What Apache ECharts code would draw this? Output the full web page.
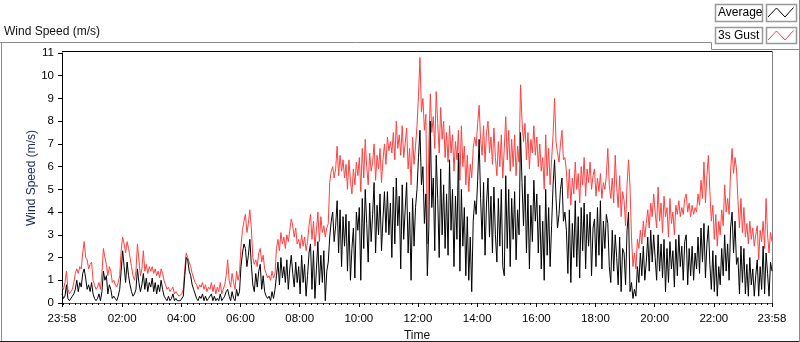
<!DOCTYPE html>
<html>
<head>
<meta charset="utf-8">
<title>Wind Speed (m/s)</title>
<script src="https://cdn.jsdelivr.net/npm/echarts@6/dist/echarts.min.js"></script>
<style>
  html, body { margin: 0; padding: 0; background: #fff; }
  #chart { width: 800px; height: 342px; }
</style>
</head>
<body>
<div id="chart"></div>
<script>
// one reading every 3 minutes, starting 23:58 the day before
// each row is one hour
const stepMinutes = 3
const avgSpeed = [
  0.4, 0.2, 0.3, 0.8, 0.2, 0.1, 0.1, 0.3, 0.4, 0.6, 1.0, 0.5, 0.9, 0.7, 1.3, 1.5, 1.1, 0.6, 0.8, 0.5,
  0.9, 0.4, 0.2, 0.1, 0.2, 0.4, 0.1, 0.5, 1.4, 1.0, 1.2, 0.4, 0.8, 0.6, 0.2, 0.3, 0.2, 0.1, 0.3, 0.6,
  1.4, 2.3, 1.6, 0.9, 1.8, 1.2, 0.8, 0.5, 0.3, 0.4, 0.6, 1.5, 0.9, 0.5, 0.8, 1.3, 0.6, 1.1, 0.5, 0.9,
  0.7, 1.1, 0.5, 0.9, 0.4, 0.8, 0.5, 1.0, 0.6, 0.3, 0.2, 0.1, 0.3, 0.1, 0.2, 0.4, 0.1, 0.2, 0.1, 0.1,
  0.1, 0.1, 0.3, 1.2, 2.0, 1.9, 1.4, 1.2, 0.8, 0.6, 0.4, 0.2, 0.1, 0.3, 0.2, 0.4, 0.1, 0.3, 0.1, 0.2,
  0.2, 0.4, 0.1, 0.3, 0.1, 0.2, 0.1, 0.4, 0.1, 0.2, 0.3, 0.5, 0.6, 0.3, 0.1, 0.5, 0.2, 0.1, 0.6, 0.3,
  0.5, 1.6, 2.2, 2.6, 2.4, 1.6, 2.1, 2.8, 1.7, 0.8, 0.5, 1.3, 0.7, 1.4, 1.7, 0.6, 1.2, 0.5, 0.3, 0.2,
  0.3, 0.1, 0.5, 0.2, 0.6, 1.2, 1.8, 0.8, 2.0, 1.1, 1.6, 0.9, 1.9, 0.6, 1.5, 2.1, 1.3, 0.7, 1.8, 0.9,
  1.6, 0.4, 2.1, 0.9, 1.7, 0.3, 1.2, 2.2, 2.6, 0.6, 2.3, 0.2, 1.5, 2.7, 0.8, 2.1, 0.9, 2.3, 0.1, 1.4,
  1.8, 2.9, 3.6, 4.0, 2.7, 3.4, 4.5, 2.2, 4.1, 1.6, 3.8, 2.5, 3.9, 1.4, 3.6, 1.0, 2.4, 3.3, 1.1, 4.0,
  3.2, 4.2, 1.0, 4.6, 2.4, 5.0, 3.5, 1.8, 4.4, 2.7, 3.9, 5.3, 2.2, 4.3, 3.0, 4.8, 2.3, 3.7, 4.9, 3.1,
  4.9, 3.0, 4.4, 2.0, 5.1, 2.6, 5.5, 3.4, 4.7, 1.5, 5.2, 2.8, 4.1, 5.3, 2.2, 4.0, 1.0, 4.6, 2.5, 4.2,
  5.0, 6.4, 7.6, 5.2, 6.0, 3.5, 4.8, 1.2, 3.3, 8.0, 4.2, 5.5, 2.3, 6.5, 4.6, 2.0, 5.9, 3.0, 5.2, 2.4,
  4.8, 2.1, 6.3, 3.2, 5.0, 1.6, 4.7, 2.8, 6.6, 1.4, 5.0, 2.5, 4.2, 1.2, 3.8, 1.0, 2.9, 0.5, 3.6, 4.5,
  3.9, 5.4, 7.2, 4.6, 2.8, 5.3, 2.1, 4.4, 5.5, 2.9, 4.7, 2.2, 5.1, 3.0, 1.8, 4.6, 2.5, 5.0, 1.6, 1.2,
  5.6, 2.4, 5.0, 1.6, 4.6, 2.8, 4.9, 1.9, 4.1, 3.0, 7.5, 5.3, 3.4, 5.6, 2.2, 4.8, 1.5, 4.3, 2.7, 5.4,
  3.6, 4.8, 2.2, 4.3, 1.5, 3.6, 1.0, 5.0, 2.1, 4.2, 1.6, 3.4, 5.2, 6.3, 4.6, 3.3, 3.9, 5.0, 5.5, 3.6,
  4.0, 3.2, 1.3, 4.1, 0.9, 3.5, 2.0, 4.5, 1.6, 3.8, 1.1, 4.2, 2.3, 4.4, 1.5, 3.9, 2.5, 4.0, 1.2, 3.3,
  3.7, 1.6, 4.2, 2.1, 4.5, 1.5, 3.6, 2.4, 3.9, 3.5, 1.6, 0.9, 3.2, 1.4, 3.0, 2.0, 0.8, 2.9, 0.5, 2.4,
  2.2, 0.8, 3.2, 4.0, 0.5, 0.9, 0.2, 0.6, 0.3, 1.6, 0.9, 2.2, 1.2, 2.5, 1.0, 1.8, 2.9, 1.4, 3.2, 1.8,
  3.0, 2.0, 1.0, 3.0, 1.4, 2.6, 1.1, 2.8, 0.5, 2.4, 0.9, 2.7, 1.5, 2.3, 0.7, 2.8, 1.2, 3.0, 1.6, 2.5,
  1.0, 2.7, 3.0, 0.8, 2.4, 1.2, 2.5, 1.0, 2.2, 1.5, 2.9, 1.3, 3.3, 1.8, 3.5, 1.1, 2.6, 3.4, 1.7, 0.6,
  2.3, 0.5, 2.1, 0.3, 1.6, 0.8, 2.4, 1.2, 3.0, 1.4, 2.6, 1.0, 3.3, 4.0, 2.2, 3.6, 1.7, 2.0, 0.4, 2.5,
  0.9, 2.4, 0.4, 1.7, 0.3, 2.0, 0.8, 1.5, 0.3, 1.2, 1.9, 0.3, 1.6, 0.6, 2.5, 0.4, 2.2, 1.3, 0.3, 1.8, 1.4
]
const gustSpeed = [
  0.7, 0.6, 0.9, 1.4, 0.6, 0.4, 0.5, 0.6, 0.9, 1.3, 1.5, 1.3, 1.6, 1.5, 2.2, 2.7, 2.0, 1.9, 1.5, 1.7,
  1.8, 1.0, 0.8, 0.6, 0.7, 0.9, 0.6, 1.3, 2.4, 2.0, 1.7, 1.2, 1.6, 1.4, 0.9, 1.0, 0.8, 0.7, 0.9, 1.2,
  2.3, 2.9, 2.6, 2.2, 2.7, 2.4, 2.0, 1.6, 1.2, 1.0, 1.4, 2.6, 1.9, 1.2, 1.5, 2.3, 1.4, 1.7, 1.3, 1.6,
  1.4, 1.6, 1.3, 1.5, 1.2, 1.4, 1.1, 1.5, 1.3, 1.0, 0.8, 0.6, 0.7, 0.5, 0.6, 0.7, 0.4, 0.5, 0.4, 0.3,
  0.3, 0.4, 0.6, 1.5, 2.2, 2.0, 1.8, 1.6, 1.3, 1.1, 0.9, 0.8, 0.6, 0.8, 0.7, 0.9, 0.6, 0.8, 0.5, 0.7,
  0.6, 0.9, 0.5, 0.8, 0.4, 0.7, 0.5, 0.9, 0.4, 0.6, 0.8, 1.2, 1.9, 1.0, 0.7, 1.3, 0.9, 0.6, 1.4, 1.0,
  1.3, 2.5, 3.2, 3.6, 3.9, 3.1, 3.5, 4.1, 3.3, 2.0, 1.7, 1.9, 1.6, 2.2, 2.4, 1.8, 2.1, 1.5, 1.3, 1.1,
  1.2, 1.0, 1.4, 1.1, 1.3, 2.4, 2.8, 2.3, 3.1, 2.6, 2.9, 2.4, 3.0, 2.7, 3.2, 3.7, 3.4, 2.9, 3.3, 2.6,
  2.8, 2.4, 3.0, 2.5, 2.9, 2.3, 2.7, 3.4, 3.9, 2.8, 3.6, 2.5, 3.2, 4.0, 2.7, 3.8, 3.1, 3.4, 2.9, 3.3,
  3.5, 5.3, 5.8, 6.0, 5.5, 5.9, 6.9, 5.6, 6.5, 5.8, 6.3, 5.5, 6.1, 5.0, 6.3, 5.4, 4.8, 5.9, 5.2, 6.2,
  5.6, 6.4, 4.9, 6.8, 5.5, 7.2, 6.0, 5.2, 6.6, 5.8, 6.2, 7.0, 5.4, 6.5, 5.9, 6.8, 5.3, 6.3, 7.0, 6.1,
  7.3, 6.7, 7.1, 6.6, 7.5, 6.3, 8.0, 6.8, 7.4, 6.5, 7.8, 6.4, 7.0, 7.7, 5.9, 6.8, 5.2, 7.3, 6.1, 6.9,
  7.8, 9.1, 10.8, 8.4, 9.0, 7.6, 8.3, 2.6, 6.9, 9.2, 7.5, 8.2, 6.8, 9.3, 7.9, 6.6, 8.6, 7.2, 8.0, 6.4,
  7.5, 6.2, 7.8, 6.6, 7.4, 5.8, 7.1, 6.3, 7.6, 5.4, 7.8, 6.0, 6.9, 5.2, 6.5, 4.9, 6.1, 5.5, 6.8, 7.3,
  6.9, 7.9, 8.7, 7.2, 6.5, 7.8, 6.2, 7.5, 8.0, 6.6, 7.3, 6.1, 7.7, 6.4, 5.6, 7.1, 6.0, 7.4, 5.5, 6.8,
  8.2, 6.3, 7.6, 5.8, 7.2, 6.0, 7.4, 5.6, 6.9, 6.2, 9.6, 8.0, 7.1, 7.9, 6.3, 7.5, 5.9, 7.2, 6.6, 7.8,
  6.5, 7.3, 6.0, 7.0, 5.8, 6.4, 5.0, 7.4, 5.6, 6.8, 5.2, 6.3, 7.4, 9.0, 7.1, 6.6, 6.2, 7.0, 7.6, 6.3,
  6.4, 5.8, 4.6, 5.9, 4.3, 5.5, 4.8, 6.2, 5.0, 5.7, 4.4, 6.0, 5.2, 6.4, 4.7, 5.9, 5.3, 6.2, 5.0, 5.6,
  5.9, 4.7, 5.5, 4.9, 5.7, 4.6, 5.3, 5.0, 5.6, 6.8, 5.2, 4.6, 5.5, 4.4, 6.5, 5.1, 4.2, 5.6, 3.8, 4.9,
  4.5, 3.4, 5.2, 6.3, 5.1, 2.9, 1.6, 2.2, 1.5, 2.8, 2.4, 3.2, 2.6, 3.6, 2.9, 3.5, 4.1, 3.3, 4.4, 3.8,
  4.8, 4.0, 3.3, 5.1, 3.6, 4.4, 3.1, 4.7, 3.8, 4.2, 2.9, 4.6, 3.5, 4.0, 3.0, 4.3, 3.9, 4.5, 3.8, 4.2,
  3.9, 4.6, 4.8, 4.0, 4.4, 3.8, 4.3, 3.9, 4.2, 4.0, 4.8, 4.3, 5.4, 4.6, 6.2, 4.4, 5.6, 6.5, 4.9, 3.6,
  4.3, 2.8, 3.9, 2.5, 3.6, 3.0, 4.1, 3.4, 5.2, 4.0, 4.6, 3.9, 5.8, 6.8, 5.7, 6.4, 5.9, 4.5, 3.3, 4.6,
  3.1, 4.2, 2.9, 3.5, 2.6, 3.6, 2.8, 3.3, 2.5, 3.0, 3.4, 1.9, 3.2, 2.7, 3.6, 2.4, 4.6, 3.0, 2.2, 3.1, 2.7
]
// time axis labels and where they sit (minutes after 23:58)
const timeLabels = ['23:58', '02:00', '04:00', '06:00', '08:00', '10:00', '12:00',
  '14:00', '16:00', '18:00', '20:00', '22:00', '23:58']
const timeLabelMinutes = [0, 122, 242, 362, 482, 602, 722, 842, 962, 1082, 1202, 1322, 1440]
const totalMinutes = 1440

const font = 'Liberation Sans'
const chart = echarts.init(document.getElementById('chart'), null, { renderer: 'canvas' })

// one category per minute, only the labelled ones get a name
const minuteCats = []
for (let m = 0; m <= totalMinutes; m++) {
  const k = timeLabelMinutes.indexOf(m)
  minuteCats.push(k >= 0 ? timeLabels[k] : '')
}
const isMajor = (i) => timeLabelMinutes.indexOf(i) >= 0
const isMinor = (i) => i === 0 || i === totalMinutes || (i - 2) % 12 === 0

const toPoints = (arr) => arr.map((v, i) => [i * stepMinutes, v])

const option = {
  animation: false,
  backgroundColor: '#fff',
  textStyle: { fontFamily: font },
  grid: { left: 62, right: 28, top: 53, bottom: 39, outerBoundsMode: 'none', containLabel: false },
  xAxis: [
    { // scale for the data only
      type: 'value', min: 0, max: totalMinutes, show: false
    },
    { // labels + major ticks
      type: 'category', data: minuteCats, boundaryGap: false, position: 'bottom',
      name: 'Time', nameLocation: 'middle', nameGap: 27, nameMoveOverlap: false,
      nameTextStyle: { color: '#111', fontSize: 12, fontFamily: font },
      axisLine: { lineStyle: { color: '#555', width: 1 } },
      axisTick: { interval: isMajor, length: 4, lineStyle: { color: '#000' } },
      axisLabel: { interval: isMajor, margin: 10, color: '#000', fontSize: 11.5, fontFamily: font },
      splitLine: { show: false }
    },
    { // minor ticks
      type: 'category', data: minuteCats, boundaryGap: false, position: 'bottom',
      axisLine: { show: false },
      axisTick: { interval: isMinor, length: 2, lineStyle: { color: '#000' } },
      axisLabel: { show: false },
      splitLine: { show: false }
    }
  ],
  yAxis: {
    type: 'value', min: 0, max: 11, interval: 1,
    name: 'Wind Speed (m/s)', nameLocation: 'middle', nameGap: 24, nameMoveOverlap: false,
    nameTextStyle: { color: '#1a2a55', fontSize: 12, fontFamily: font },
    axisLine: { show: true, lineStyle: { color: '#000', width: 1 } },
    axisTick: { show: true, length: 4, lineStyle: { color: '#000' } },
    axisLabel: { margin: 8, color: '#000', fontSize: 11.5, fontFamily: font },
    splitLine: { show: false }
  },
  series: [
    {
      name: '3s Gust', type: 'line', xAxisIndex: 0, data: toPoints(gustSpeed),
      showSymbol: false, symbol: 'none',
      lineStyle: { color: '#ff4040', width: 1 }
    },
    {
      name: 'Average', type: 'line', xAxisIndex: 0, data: toPoints(avgSpeed),
      showSymbol: false, symbol: 'none',
      lineStyle: { color: '#000', width: 1 }
    }
  ],
  graphic: [
    // outer frame
    { type: 'line', shape: { x1: 0, y1: 42.5, x2: 711.5, y2: 42.5 }, style: { stroke: '#8a8a8a', lineWidth: 1 } },
    { type: 'line', shape: { x1: 1.5, y1: 42.5, x2: 1.5, y2: 342 }, style: { stroke: '#8a8a8a', lineWidth: 1 } },
    { type: 'line', shape: { x1: 0, y1: 341.5, x2: 800, y2: 341.5 }, style: { stroke: '#222', lineWidth: 1 } },
    { type: 'line', shape: { x1: 711.5, y1: 42.5, x2: 711.5, y2: 49.5 }, style: { stroke: '#8a8a8a', lineWidth: 1 } },
    { type: 'line', shape: { x1: 711.5, y1: 49.5, x2: 800, y2: 49.5 }, style: { stroke: '#8a8a8a', lineWidth: 1 } },
    { type: 'line', shape: { x1: 799.5, y1: 0, x2: 799.5, y2: 342 }, style: { stroke: '#8a8a8a', lineWidth: 1 } },
    // plot area border (top / right)
    { type: 'line', shape: { x1: 62, y1: 51.5, x2: 772.5, y2: 51.5 }, style: { stroke: '#000', lineWidth: 1 } },
    { type: 'line', shape: { x1: 772.5, y1: 51.5, x2: 772.5, y2: 303 }, style: { stroke: '#808080', lineWidth: 1 } },
    // chart label
    { type: 'text', left: 4, top: 26, style: { text: 'Wind Speed (m/s)', fill: '#111', font: '12px "' + font + '"' } },
    // legend
    { type: 'rect', shape: { x: 715.5, y: 4.5, width: 47, height: 17 }, style: { fill: '#fff', stroke: '#999', lineWidth: 1.5 } },
    { type: 'text', x: 718, y: 13, style: { text: 'Average', fill: '#000', font: '12px "' + font + '"', verticalAlign: 'middle' } },
    { type: 'rect', shape: { x: 766.5, y: 4.5, width: 30, height: 17 }, style: { fill: '#fff', stroke: '#999', lineWidth: 1.5 } },
    { type: 'polyline', shape: { points: [[768, 17], [776.5, 8], [785, 17], [793.5, 7.5]] }, style: { stroke: '#000', lineWidth: 1, fill: null } },
    { type: 'rect', shape: { x: 715.5, y: 27.5, width: 47, height: 16 }, style: { fill: '#fff', stroke: '#999', lineWidth: 1.5 } },
    { type: 'text', x: 718, y: 35.5, style: { text: '3s Gust', fill: '#000', font: '12px "' + font + '"', verticalAlign: 'middle' } },
    { type: 'rect', shape: { x: 766.5, y: 27.5, width: 30, height: 16 }, style: { fill: '#fff', stroke: '#999', lineWidth: 1.5 } },
    { type: 'polyline', shape: { points: [[768, 40], [776.5, 31], [785, 40], [793.5, 30.5]] }, style: { stroke: '#ff4040', lineWidth: 1, fill: null } }
  ]
}

chart.setOption(option)
</script>
</body>
</html>
